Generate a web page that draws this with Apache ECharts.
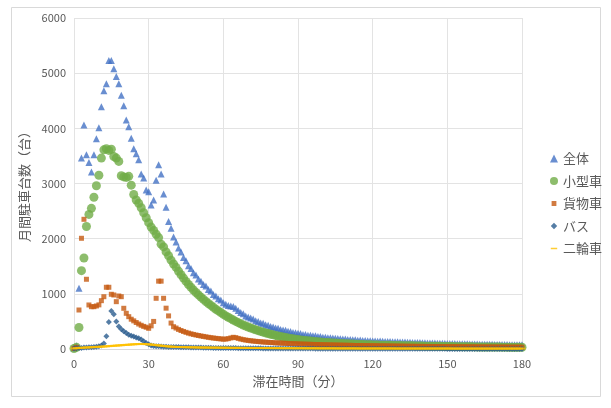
<!DOCTYPE html>
<html><head><meta charset="utf-8">
<script src="https://cdn.jsdelivr.net/npm/echarts@6/dist/echarts.min.js"></script>
<style>html,body{margin:0;padding:0;background:#fff}#c{width:611px;height:408px}</style>
</head><body><div id="c"></div>
<script>
// minutes 0..180 are the category positions (index = minute)
const seriesNames = ['全体', '小型車', '貨物車', 'バス', '二輪車'];
const xTicks = [0, 30, 60, 90, 120, 150, 180];
const yTicks = [0, 1000, 2000, 3000, 4000, 5000, 6000];

const total = [
 20,60,1100,3460,4060,3520,3380,3210,3520,3810,4010,4390,4680,4810,5230,5230,5080,4940,4810,4600,
 4410,4150,4030,3820,3630,3540,3430,3170,3100,2880,2850,2610,2700,3060,3340,3170,2810,2570,2310,2190,
 2030,1940,1830,1760,1660,1600,1510,1460,1380,1340,1270,1230,1170,1140,1080,1050,990,960,910,890,
 840,810,790,780,770,740,700,660,640,600,580,560,545,510,500,470,465,440,430,410,
 400,380,375,355,345,338,320,315,300,295,285,280,265,262,250,250,240,238,225,226,
 215,214,206,205,198,196,190,188,181,182,174,172,168,167,160,161,155,156,150,150,
 145,146,142,143,139,138,136,135,133,131,130,128,127,125,123,122,120,119,117,116,
 114,113,111,111,109,108,106,106,104,103,101,100,99,98,97,96,94,94,93,92,
 91,90,89,88,88,86,86,85,84,83,83,82,81,81,81,79,79,79,78,77,77
];
const small = [
 10,30,390,1420,1650,2220,2440,2550,2750,2960,3150,3460,3610,3630,3600,3620,3490,3460,3400,3140,
 3120,3110,3130,2970,2800,2700,2640,2560,2470,2380,2290,2210,2150,2080,2020,1900,1850,1760,1690,1610,
 1540,1480,1410,1345,1285,1225,1170,1120,1070,1025,980,940,900,860,825,790,755,720,690,660,
 630,600,575,550,525,500,478,456,436,416,398,380,364,348,333,319,305,292,280,268,
 257,246,236,226,217,208,200,192,185,178,171,165,159,154,149,144,139,135,131,127,
 123,119,116,113,110,107,104,101,98,96,93,91,89,87,85,83,81,79,77,75,
 73,72,71,70,69,68,67,66,65,64,63,62,61,60,59,58,57,56,55,54,
 53,52,51,51,50,49,48,48,47,46,45,45,44,43,43,42,41,41,40,40,
 39,38,38,37,37,36,36,35,35,34,34,34,33,33,33,32,32,32,31,31,31
];
const cargo = [
 10,30,707,2007,2351,1264,798,767,767,780,800,876,948,1119,1119,992,979,858,961,948,
 738,647,586,540,510,480,453,430,410,395,375,420,500,919,1230,1230,919,740,600,470,
 404,380,355,335,318,302,288,275,264,254,245,236,228,220,212,205,199,193,188,183,
 178,180,188,200,212,206,192,180,170,162,155,149,144,139,135,131,127,124,121,118,
 115,112,110,107,105,103,100,98,96,94,92,90,89,87,86,84,83,81,80,79,
 77,76,75,74,73,72,71,70,69,68,67,66,65,64,64,63,62,61,61,60,
 59,59,58,57,57,56,55,55,54,53,53,52,52,51,50,50,49,49,48,48,
 47,47,46,46,45,45,44,44,44,43,43,42,42,42,41,41,40,40,40,39,
 39,39,38,38,38,37,37,37,36,36,36,35,35,35,35,34,34,34,34,33,33
];
const bus = [
 10,15,20,20,25,25,30,30,35,40,50,65,100,230,490,690,630,500,410,360,
 320,290,260,240,225,210,195,170,140,110,85,65,55,50,48,45,42,40,38,37,
 36,35,34,33,32,31,30,29,28,27,26,25,24,23,22,21,20,20,19,19,
 18,18,17,17,16,16,15,15,15,14,14,13,13,12,12,12,11,11,11,10,
 10,10,10,9,9,9,9,8,8,8,8,8,7,7,7,7,7,6,6,6,
 6,6,6,6,5,5,5,5,5,5,5,5,5,4,4,4,4,4,4,4,
 4,4,4,4,4,4,3,3,3,3,3,3,3,3,3,3,3,3,3,3,
 3,3,3,3,3,3,3,3,3,3,2,2,2,2,2,2,2,2,2,2,
 2,2,2,2,2,2,2,2,2,2,2,2,2,2,2,2,2,2,2,2,2
];
const moto = [
 10,15,20,22,25,28,30,32,35,38,40,42,45,48,52,55,58,62,65,68,
 72,75,78,82,85,88,90,92,90,88,85,80,75,70,65,60,55,50,46,43,
 40,38,36,35,34,33,32,31,30,29,28,27,27,26,26,25,25,24,24,23,
 23,22,22,21,21,21,20,20,20,19,19,19,18,18,18,17,17,17,17,16,
 16,16,16,15,15,15,15,15,14,14,14,14,14,13,13,13,13,13,12,12,
 12,12,12,12,12,11,11,11,11,11,11,11,11,11,10,10,10,10,10,10,
 10,10,10,10,10,10,10,10,10,9,9,9,9,9,9,9,9,9,9,9,
 9,9,9,9,9,9,9,9,9,9,9,9,8,8,8,8,8,8,8,8,
 8,8,8,8,8,8,8,8,8,8,8,8,8,8,8,8,8,8,8,8,8
];

const pts = arr => arr.map((v, i) => [i, v]);
const colors = ['#4472C4', '#70AD47', '#C55A11', '#2B5C8F', '#FFC000'];
const font = '"Noto Sans CJK JP", "Noto Sans", sans-serif';
const chart = echarts.init(document.getElementById('c'), null, {renderer: 'canvas'});
chart.setOption({
  animation: false,
  backgroundColor: '#fff',
  graphic: [{type: 'rect', shape: {x: 11.5, y: 7.5, width: 589, height: 389},
             style: {fill: 'none', stroke: '#D9D9D9', lineWidth: 1}, silent: true}],
  grid: {left: 74, right: 89, top: 18, bottom: 59},
  xAxis: {
    type: 'value', min: 0, max: 180, interval: 30,
    name: '滞在時間（分）', nameLocation: 'middle', nameGap: 26,
    nameTextStyle: {color: '#595959', fontSize: 13, fontFamily: font},
    axisLine: {show: true, lineStyle: {color: '#D9D9D9'}},
    axisTick: {show: false},
    axisLabel: {color: '#595959', fontSize: 11, fontFamily: font, margin: 9,
                formatter: v => xTicks.includes(v) ? String(v) : ''},
    splitLine: {show: true, lineStyle: {color: '#E3E3E3'}}
  },
  yAxis: {
    type: 'value', min: 0, max: 6000, interval: 1000,
    name: '月間駐車台数（台）', nameLocation: 'middle', nameGap: 43, nameRotate: 90,
    nameTextStyle: {color: '#595959', fontSize: 13, fontFamily: font},
    axisLine: {show: false}, axisTick: {show: false},
    axisLabel: {color: '#595959', fontSize: 11, fontFamily: font, margin: 8,
                formatter: v => yTicks.includes(v) ? String(v) : ''},
    splitLine: {show: true, lineStyle: {color: '#E3E3E3'}}
  },
  legend: {
    orient: 'vertical', left: 545, top: 147, itemGap: 9.5,
    itemWidth: 8, itemHeight: 8,
    textStyle: {color: '#595959', fontSize: 13, fontFamily: font, lineHeight: 13},
    data: [
      {name: seriesNames[0], icon: 'triangle'},
      {name: seriesNames[1], icon: 'circle'},
      {name: seriesNames[2], icon: 'path://M2,2h6v6h-6zM0,0h0.01v0.01h-0.01zM10,10h0.01v0.01h-0.01z'},
      {name: seriesNames[3], icon: 'path://M5,1L9,5L5,9L1,5zM0,0h0.01v0.01h-0.01zM10,10h0.01v0.01h-0.01z'},
      {name: seriesNames[4], icon: 'path://M1,4.2h8v1.6h-8zM0,0h0.01v0.01h-0.01zM10,10h0.01v0.01h-0.01z'}
    ]
  },
  series: [
    {name: seriesNames[0], type: 'scatter', data: pts(total), symbol: 'triangle', symbolSize: 7,
     itemStyle: {color: colors[0]}, z: 1},
    {name: seriesNames[1], type: 'scatter', data: pts(small), symbol: 'circle', symbolSize: 9,
     itemStyle: {color: colors[1]}, z: 2},
    {name: seriesNames[2], type: 'scatter', data: pts(cargo), symbol: 'rect', symbolSize: 5,
     itemStyle: {color: colors[2]}, z: 3},
    {name: seriesNames[3], type: 'scatter', data: pts(bus), symbol: 'diamond', symbolSize: 6,
     itemStyle: {color: colors[3]}, z: 4},
    {name: seriesNames[4], type: 'scatter', data: pts(moto), symbol: 'rect', symbolSize: [7, 2],
     itemStyle: {color: colors[4]}, z: 5}
  ]
});
</script></body></html>
